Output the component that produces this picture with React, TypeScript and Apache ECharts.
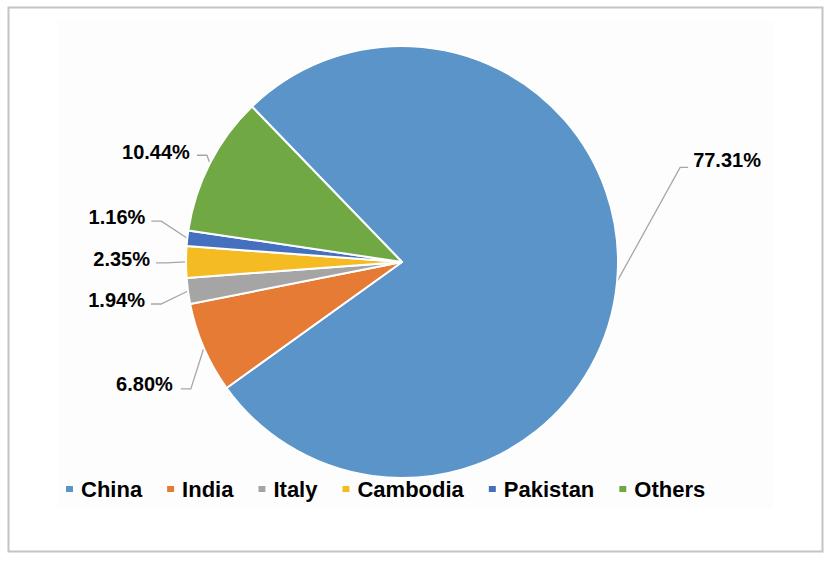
import React, { useEffect, useRef } from "react";
import * as echarts from "echarts";

const categories = ["China", "India", "Italy", "Cambodia", "Pakistan", "Others"];
const shares = [77.31, 6.8, 1.94, 2.35, 1.16, 10.44];
const colors = ["#5B94C8", "#E57B35", "#A5A5A5", "#F5BB22", "#4470BF", "#70A844"];

// leader-line geometry relative to the slice's edge point
const leaders = [
  { knee: [63, -114], tail: 8, gap: 5, dy: -7 },
  { knee: [-13, 41], tail: -10, gap: 8, dy: -5 },
  { knee: [-27, 13], tail: -10, gap: 6, dy: -3.5 },
  { knee: [-20, 1], tail: -10, gap: 6, dy: -4 },
  { knee: [-26, -17], tail: -10, gap: 6, dy: -4 },
  { knee: [-3, -8], tail: -10, gap: 7, dy: -3.5 },
];

const FONT = "'Liberation Sans', Arial, Helvetica, sans-serif";

export default function App() {
  const ref = useRef<HTMLDivElement>(null);
  useEffect(() => {
    if (!ref.current) return;
    const chart = echarts.init(ref.current, null, { renderer: "svg" });
    chart.setOption({
      animation: false,
      backgroundColor: "#ffffff",
      graphic: [
        {
          type: "rect",
          z: -10,
          silent: true,
          shape: { x: 8.5, y: 7.5, width: 814, height: 544 },
          style: { fill: "#ffffff", stroke: "#c4c4c4", lineWidth: 2 },
        },
        {
          type: "rect",
          z: -9,
          silent: true,
          shape: { x: 58, y: 21, width: 715, height: 487 },
          style: { fill: "#fdfdfd" },
        },
      ],
      legend: {
        data: categories,
        left: 59,
        top: 473,
        icon: "rect",
        itemWidth: 9,
        itemHeight: 8,
        itemGap: 23,
        selectedMode: false,
        textStyle: {
          fontFamily: FONT,
          fontWeight: "bold",
          fontSize: 22,
          color: "#000",
          lineHeight: 22,
          padding: [0, 0, 0, 2],
        },
      },
      series: [
        {
          type: "pie",
          center: [402, 262],
          radius: 216,
          startAngle: 134,
          clockwise: true,
          avoidLabelOverlap: false,
          itemStyle: { borderColor: "#ffffff", borderWidth: 2 },
          label: {
            show: true,
            position: "outside",
            fontFamily: FONT,
            fontWeight: "bold",
            fontSize: 20,
            color: "#000",
            formatter: (p: any) => Number(p.value).toFixed(2) + "%",
          },
          labelLine: {
            show: true,
            length: 10,
            length2: 10,
            lineStyle: { color: "#a6a6a6", width: 1.3 },
          },
          labelLayout: (params: any) => {
            const pts = params.labelLinePoints;
            const g = leaders[params.dataIndex];
            if (!pts || !g) return {};
            const e = pts[0];
            const k = [e[0] + g.knee[0], e[1] + g.knee[1]];
            const end = [k[0] + g.tail, k[1]];
            const x = end[0] + (g.tail > 0 ? g.gap : -g.gap);
            return { x, y: end[1] + g.dy, labelLinePoints: [e, k, end] };
          },
          data: categories.map((name, i) => ({
            name,
            value: shares[i],
            itemStyle: { color: colors[i] },
          })),
        },
      ],
    });
    return () => chart.dispose();
  }, []);
  return (
    <div
      ref={ref}
      style={{ position: "absolute", left: 0, top: 0, width: 839, height: 565 }}
    />
  );
}
